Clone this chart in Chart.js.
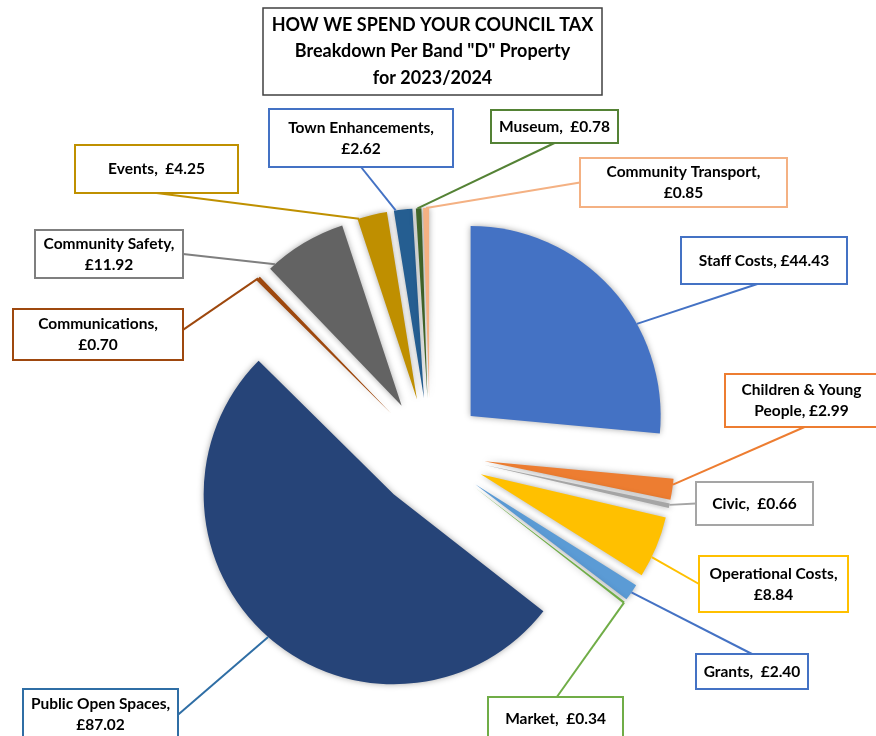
<!DOCTYPE html>
<html><head><meta charset="utf-8">
<script src="https://cdn.jsdelivr.net/npm/chart.js@4.4.0/dist/chart.umd.min.js"></script>
<style>html,body{margin:0;padding:0;background:#fff;}#wrap{width:876px;height:736px;position:relative;}</style>
</head><body><div id="wrap"><canvas id="c" width="876" height="736"></canvas></div>
<script>
// ---- data ----
const categories = ['Staff Costs','Children & Young People','Civic','Operational Costs','Grants','Market','Public Open Spaces','Communications','Community Safety','Events','Town Enhancements','Museum','Community Transport'];
const values = [44.43, 2.99, 0.66, 8.84, 2.40, 0.34, 87.02, 0.70, 11.92, 4.25, 2.62, 0.78, 0.85];
const titleLines = ['HOW WE SPEND YOUR COUNCIL TAX', 'Breakdown Per Band "D" Property', 'for 2023/2024'];

// ---- styles ----
const sliceColors = ['#4472C4','#ED7D31','#A5A5A5','#FFC000','#5B9BD5','#70AD47','#264478','#9E480E','#636363','#BF8F00','#255E91','#43682B','#F4B183'];
const labelColors = ['#4472C4','#ED7D31','#A5A5A5','#FFC000','#4472C4','#70AD47','#2F6EA5','#9E480E','#7F7F7F','#BF9000','#4472C4','#548235','#F4B183'];
const EXPLODE = 55;
const RADIUS = 190;
const FONT = 'Lato, "Open Sans", sans-serif';

// label layout: box [x1,y1,x2,y2], leader side & position on side, anchor fraction along slice, line mode
const labelLayout = [
  {box:[681,237,847,284], side:'bottom', pos:0.46, frac:0.64, mode:'one', sep:' '},
  {box:[725,374,878,427], side:'bottom', pos:0.52, frac:0.28, mode:'custom', lines:['Children & Young','People, £{v}']},
  {box:[696,482,813,525], side:'left', pos:0.5, frac:0.3, mode:'one'},
  {box:[699,556,848,612], side:'left', pos:0.5, frac:0.67, mode:'two'},
  {box:[696,654,808,689], side:'top', pos:0.5, frac:0.5, mode:'one'},
  {box:[488,697,623,745], side:'top', pos:0.51, frac:0.5, mode:'one'},
  {box:[23,689,178,745], side:'right', pos:0.46, frac:0.5, mode:'two'},
  {box:[13,309,183,360], side:'right', pos:0.41, frac:0.5, mode:'two'},
  {box:[35,230,183,278], side:'right', pos:0.5, frac:0.08, mode:'two'},
  {box:[75,145,238,193], side:'bottom', pos:0.5, frac:0.05, mode:'one'},
  {box:[269,109,453,167], side:'bottom', pos:0.5, frac:0.1, mode:'two'},
  {box:[491,110,618,143], side:'bottom', pos:0.5, frac:0.3, mode:'one'},
  {box:[580,158,787,207], side:'left', pos:0.5, frac:0.5, mode:'two'}
];

function labelText(i){
  const L = labelLayout[i];
  const v = values[i].toFixed(2);
  if (L.mode === 'one') return [categories[i] + ',' + (L.sep || '  ') + '£' + v];
  if (L.mode === 'two') return [categories[i] + ',', '£' + v];
  return L.lines.map(s => s.replace('{v}', v));
}

const explodePlugin = {
  id: 'explode',
  beforeDatasetDraw(chart, args) {
    const ctx = chart.ctx;
    args.meta.data.forEach(arc => {
      const half = (arc.startAngle + arc.endAngle) / 2;
      ctx.save();
      ctx.translate(Math.cos(half) * EXPLODE, Math.sin(half) * EXPLODE);
      ctx.shadowColor = 'rgba(0,0,0,0.35)';
      ctx.shadowBlur = 6;
      arc.draw(ctx);
      ctx.restore();
    });
    return false;
  }
};

const labelPlugin = {
  id: 'boxLabels',
  afterDraw(chart) {
    const ctx = chart.ctx;
    const meta = chart.getDatasetMeta(0);
    ctx.save();
    // leader lines
    meta.data.forEach((arc, i) => {
      const L = labelLayout[i];
      const half = (arc.startAngle + arc.endAngle) / 2;
      const ox = arc.x + Math.cos(half) * EXPLODE, oy = arc.y + Math.sin(half) * EXPLODE;
      const a = arc.startAngle + L.frac * (arc.endAngle - arc.startAngle);
      const r = arc.outerRadius;
      const ax = ox + Math.cos(a) * r, ay = oy + Math.sin(a) * r;
      const [x1, y1, x2, y2] = L.box;
      let ex, ey;
      if (L.side === 'bottom') { ex = x1 + (x2 - x1) * L.pos; ey = y2; }
      else if (L.side === 'top') { ex = x1 + (x2 - x1) * L.pos; ey = y1; }
      else if (L.side === 'left') { ex = x1; ey = y1 + (y2 - y1) * L.pos; }
      else { ex = x2; ey = y1 + (y2 - y1) * L.pos; }
      ctx.beginPath();
      ctx.moveTo(ax, ay);
      ctx.lineTo(ex, ey);
      ctx.strokeStyle = labelColors[i];
      ctx.lineWidth = 2;
      ctx.stroke();
    });
    // boxes
    meta.data.forEach((arc, i) => {
      const L = labelLayout[i];
      const [x1, y1, x2, y2] = L.box;
      ctx.fillStyle = '#fff';
      ctx.fillRect(x1, y1, x2 - x1, y2 - y1);
      ctx.strokeStyle = labelColors[i];
      ctx.lineWidth = 2;
      ctx.strokeRect(x1, y1, x2 - x1, y2 - y1);
      const lines = labelText(i);
      ctx.fillStyle = '#000';
      ctx.font = 'bold 15.5px ' + FONT;
      ctx.textAlign = 'center';
      ctx.textBaseline = 'middle';
      const lh = 21;
      let topY;
      if (y2 > 736) topY = lines.length > 1 ? y1 + 15 : y1 + 22;
      else topY = (y1 + y2) / 2 - (lines.length - 1) * lh / 2;
      lines.forEach((s, k) => ctx.fillText(s, (x1 + x2) / 2, topY + k * lh));
    });
    // title
    const tb = [263, 8, 602, 95];
    ctx.fillStyle = '#fff';
    ctx.fillRect(tb[0], tb[1], tb[2] - tb[0], tb[3] - tb[1]);
    ctx.strokeStyle = '#404040';
    ctx.lineWidth = 1.5;
    ctx.strokeRect(tb[0], tb[1], tb[2] - tb[0], tb[3] - tb[1]);
    ctx.fillStyle = '#000';
    ctx.font = 'bold 18px ' + FONT;
    ctx.textAlign = 'center';
    ctx.textBaseline = 'middle';
    titleLines.forEach((s, k) => ctx.fillText(s, (tb[0] + tb[2]) / 2, 25 + k * 26.5));
    ctx.restore();
  }
};

new Chart(document.getElementById('c'), {
  type: 'pie',
  data: {
    labels: categories,
    datasets: [{
      data: values,
      backgroundColor: sliceColors,
      borderWidth: 0
    }]
  },
  options: {
    responsive: false,
    animation: false,
    events: [],
    radius: RADIUS,
    rotation: 0,
    layout: { padding: { left: 0, right: 16, top: 170, bottom: 0 } },
    plugins: { legend: { display: false }, title: { display: false }, tooltip: { enabled: false } }
  },
  plugins: [explodePlugin, labelPlugin]
});
</script>
</body></html>
